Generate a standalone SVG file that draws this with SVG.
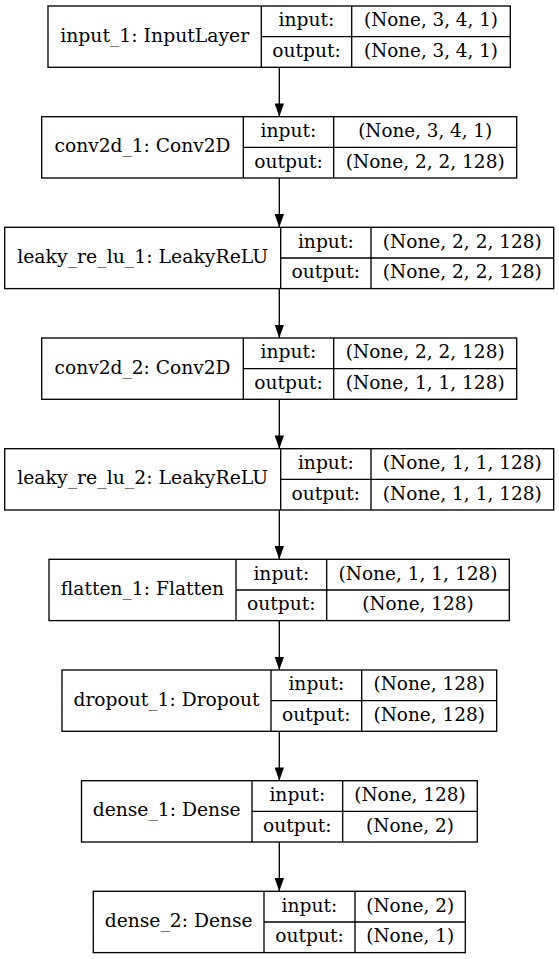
<svg xmlns="http://www.w3.org/2000/svg" width="559" height="959" viewBox="0 0 559 959">
  <style>
    .box { fill: #ffffff; stroke: #000000; stroke-width: 1.33; }
    .sep { fill: none; stroke: #000000; stroke-width: 1.33; }
    text { font-family: "DejaVu Serif", "Liberation Serif", serif; font-size: 18.67px; fill: #000000; text-anchor: middle; }
    .edge { fill: none; stroke: #000000; stroke-width: 1.33; }
  </style>
  <defs>
    <marker id="arrow" viewBox="0 0 13.3 9.4" refX="13.3" refY="4.7" markerWidth="13.3" markerHeight="9.4" markerUnits="userSpaceOnUse" orient="auto">
      <path d="M0,0 L13.3,4.7 L0,9.4 z" fill="#000000"/>
    </marker>
  </defs>
  <rect width="559" height="959" fill="#ffffff"/>

  <!-- connectors between layers -->
  <g id="edges">
    <line class="edge" x1="279.3" y1="67.3" x2="279.3" y2="116.7" marker-end="url(#arrow)"/>
    <line class="edge" x1="279.3" y1="178" x2="279.3" y2="227.3" marker-end="url(#arrow)"/>
    <line class="edge" x1="279.3" y1="288.7" x2="279.3" y2="338" marker-end="url(#arrow)"/>
    <line class="edge" x1="279.3" y1="399.3" x2="279.3" y2="448.7" marker-end="url(#arrow)"/>
    <line class="edge" x1="279.3" y1="510" x2="279.3" y2="559.3" marker-end="url(#arrow)"/>
    <line class="edge" x1="279.3" y1="620.7" x2="279.3" y2="670" marker-end="url(#arrow)"/>
    <line class="edge" x1="279.3" y1="731.3" x2="279.3" y2="780.7" marker-end="url(#arrow)"/>
    <line class="edge" x1="279.3" y1="842" x2="279.3" y2="891.3" marker-end="url(#arrow)"/>
  </g>

  <!-- input_1 -->
  <g id="input_1">
    <rect class="box" x="48" y="6" width="462.3" height="61.3"/>
    <path class="sep" d="M261.3,6 V67.3 M351.7,6 V67.3 M261.3,36.7 H510.3"/>
    <text x="154.7" y="41.6" textLength="189" lengthAdjust="spacingAndGlyphs">input_1: InputLayer</text>
    <text x="306.5" y="26.3" textLength="55.8" lengthAdjust="spacingAndGlyphs">input:</text>
    <text x="431" y="26.3" textLength="134" lengthAdjust="spacingAndGlyphs">(None, 3, 4, 1)</text>
    <text x="306.5" y="57" textLength="68.5" lengthAdjust="spacingAndGlyphs">output:</text>
    <text x="431" y="57" textLength="134" lengthAdjust="spacingAndGlyphs">(None, 3, 4, 1)</text>
  </g>

  <!-- conv2d_1 -->
  <g id="conv2d_1">
    <rect class="box" x="41.7" y="116.7" width="475" height="61.3"/>
    <path class="sep" d="M243.3,116.7 V178 M333.7,116.7 V178 M243.3,147.3 H516.7"/>
    <text x="142.5" y="152.3" textLength="176" lengthAdjust="spacingAndGlyphs">conv2d_1: Conv2D</text>
    <text x="288.5" y="137" textLength="55.8" lengthAdjust="spacingAndGlyphs">input:</text>
    <text x="425.2" y="137" textLength="134" lengthAdjust="spacingAndGlyphs">(None, 3, 4, 1)</text>
    <text x="288.5" y="167.7" textLength="68.5" lengthAdjust="spacingAndGlyphs">output:</text>
    <text x="425.2" y="167.7" textLength="159" lengthAdjust="spacingAndGlyphs">(None, 2, 2, 128)</text>
  </g>

  <!-- leaky_re_lu_1 -->
  <g id="leaky_re_lu_1">
    <rect class="box" x="4.7" y="227.3" width="549" height="61.3"/>
    <path class="sep" d="M280.7,227.3 V288.7 M371,227.3 V288.7 M280.7,258 H553.7"/>
    <text x="142.7" y="263" textLength="251" lengthAdjust="spacingAndGlyphs">leaky_re_lu_1: LeakyReLU</text>
    <text x="325.8" y="247.7" textLength="55.8" lengthAdjust="spacingAndGlyphs">input:</text>
    <text x="462.3" y="247.7" textLength="159" lengthAdjust="spacingAndGlyphs">(None, 2, 2, 128)</text>
    <text x="325.8" y="278.3" textLength="68.5" lengthAdjust="spacingAndGlyphs">output:</text>
    <text x="462.3" y="278.3" textLength="159" lengthAdjust="spacingAndGlyphs">(None, 2, 2, 128)</text>
  </g>

  <!-- conv2d_2 -->
  <g id="conv2d_2">
    <rect class="box" x="41.7" y="338" width="475" height="61.3"/>
    <path class="sep" d="M243.3,338 V399.3 M333.7,338 V399.3 M243.3,368.7 H516.7"/>
    <text x="142.5" y="373.6" textLength="176" lengthAdjust="spacingAndGlyphs">conv2d_2: Conv2D</text>
    <text x="288.5" y="358.3" textLength="55.8" lengthAdjust="spacingAndGlyphs">input:</text>
    <text x="425.2" y="358.3" textLength="159" lengthAdjust="spacingAndGlyphs">(None, 2, 2, 128)</text>
    <text x="288.5" y="389" textLength="68.5" lengthAdjust="spacingAndGlyphs">output:</text>
    <text x="425.2" y="389" textLength="159" lengthAdjust="spacingAndGlyphs">(None, 1, 1, 128)</text>
  </g>

  <!-- leaky_re_lu_2 -->
  <g id="leaky_re_lu_2">
    <rect class="box" x="4.7" y="448.7" width="549" height="61.3"/>
    <path class="sep" d="M280.7,448.7 V510 M371,448.7 V510 M280.7,479.3 H553.7"/>
    <text x="142.7" y="484.3" textLength="251" lengthAdjust="spacingAndGlyphs">leaky_re_lu_2: LeakyReLU</text>
    <text x="325.8" y="469" textLength="55.8" lengthAdjust="spacingAndGlyphs">input:</text>
    <text x="462.3" y="469" textLength="159" lengthAdjust="spacingAndGlyphs">(None, 1, 1, 128)</text>
    <text x="325.8" y="499.7" textLength="68.5" lengthAdjust="spacingAndGlyphs">output:</text>
    <text x="462.3" y="499.7" textLength="159" lengthAdjust="spacingAndGlyphs">(None, 1, 1, 128)</text>
  </g>

  <!-- flatten_1 -->
  <g id="flatten_1">
    <rect class="box" x="49" y="559.3" width="460.3" height="61.3"/>
    <path class="sep" d="M236,559.3 V620.7 M326.7,559.3 V620.7 M236,590 H509.3"/>
    <text x="142.5" y="595" textLength="163.3" lengthAdjust="spacingAndGlyphs">flatten_1: Flatten</text>
    <text x="281.3" y="579.7" textLength="55.8" lengthAdjust="spacingAndGlyphs">input:</text>
    <text x="418" y="579.7" textLength="159" lengthAdjust="spacingAndGlyphs">(None, 1, 1, 128)</text>
    <text x="281.3" y="610.3" textLength="68.5" lengthAdjust="spacingAndGlyphs">output:</text>
    <text x="418" y="610.3" textLength="111.5" lengthAdjust="spacingAndGlyphs">(None, 128)</text>
  </g>

  <!-- dropout_1 -->
  <g id="dropout_1">
    <rect class="box" x="62" y="670" width="434.7" height="61.3"/>
    <path class="sep" d="M271,670 V731.3 M361.7,670 V731.3 M271,700.7 H496.7"/>
    <text x="166.5" y="705.7" textLength="186" lengthAdjust="spacingAndGlyphs">dropout_1: Dropout</text>
    <text x="316.3" y="690.3" textLength="55.8" lengthAdjust="spacingAndGlyphs">input:</text>
    <text x="429.2" y="690.3" textLength="111.5" lengthAdjust="spacingAndGlyphs">(None, 128)</text>
    <text x="316.3" y="721" textLength="68.5" lengthAdjust="spacingAndGlyphs">output:</text>
    <text x="429.2" y="721" textLength="111.5" lengthAdjust="spacingAndGlyphs">(None, 128)</text>
  </g>

  <!-- dense_1 -->
  <g id="dense_1">
    <rect class="box" x="81.5" y="780.7" width="395.8" height="61.3"/>
    <path class="sep" d="M252,780.7 V842 M342.7,780.7 V842 M252,811.3 H477.3"/>
    <text x="166.7" y="816.3" textLength="148" lengthAdjust="spacingAndGlyphs">dense_1: Dense</text>
    <text x="297.3" y="801" textLength="55.8" lengthAdjust="spacingAndGlyphs">input:</text>
    <text x="410" y="801" textLength="111.5" lengthAdjust="spacingAndGlyphs">(None, 128)</text>
    <text x="297.3" y="831.7" textLength="68.5" lengthAdjust="spacingAndGlyphs">output:</text>
    <text x="410" y="831.7" textLength="87.8" lengthAdjust="spacingAndGlyphs">(None, 2)</text>
  </g>

  <!-- dense_2 -->
  <g id="dense_2">
    <rect class="box" x="93.3" y="891.3" width="372" height="61.3"/>
    <path class="sep" d="M264,891.3 V952.7 M355,891.3 V952.7 M264,922 H465.3"/>
    <text x="178.7" y="927" textLength="148" lengthAdjust="spacingAndGlyphs">dense_2: Dense</text>
    <text x="309.5" y="911.7" textLength="55.8" lengthAdjust="spacingAndGlyphs">input:</text>
    <text x="410.2" y="911.7" textLength="87.8" lengthAdjust="spacingAndGlyphs">(None, 2)</text>
    <text x="309.5" y="942.3" textLength="68.5" lengthAdjust="spacingAndGlyphs">output:</text>
    <text x="410.2" y="942.3" textLength="87.8" lengthAdjust="spacingAndGlyphs">(None, 1)</text>
  </g>
</svg>
